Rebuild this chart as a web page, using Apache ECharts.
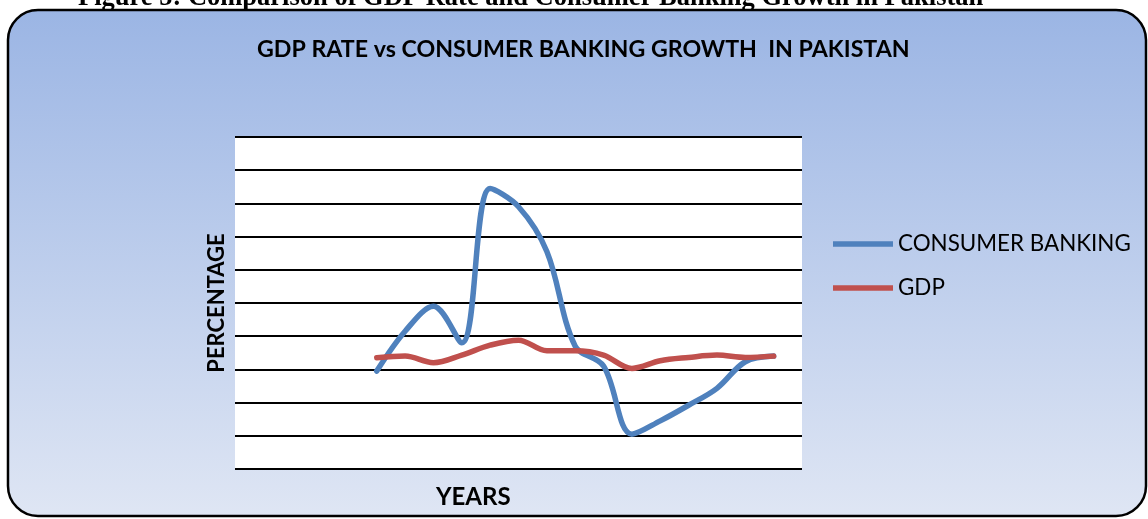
<!DOCTYPE html>
<html>
<head>
<meta charset="utf-8">
<script src="https://cdn.jsdelivr.net/npm/echarts@6/dist/echarts.min.js"></script>
<style>
html,body{margin:0;padding:0;background:#fff;}
#chart{width:1148px;height:519px;}
</style>
</head>
<body>
<div id="chart"></div>
<script>
// Data (percent)
const years = ['Y1','Y2','Y3','Y4','Y5','Y6','Y7','Y8','Y9','Y10','Y11','Y12','Y13','Y14','Y15'];
const consumerBanking = [-0.5, 11.5, 19, 8, 54.5, 49, 35.5, 7, 1, -19.5, -15.5, -10.8, -5.7, 2.3, 4];
const gdp = [3.5, 4.0, 2.0, 4.3, 7.3, 8.8, 5.6, 5.6, 4.3, 0.3, 2.6, 3.6, 4.3, 3.6, 4.0];
const seriesNames = ['CONSUMER BANKING', 'GDP'];
const yMin = -30, yMax = 70, yStep = 10;

const chart = echarts.init(document.getElementById('chart'));
const toPairs = arr => arr.map((v, i) => [i, v]);

chart.setOption({
  animation: false,
  graphic: [
    {
      type: 'rect', z: -10, silent: true,
      shape: { x: 8, y: 10, width: 1138, height: 506, r: 30 },
      style: {
        fill: new echarts.graphic.LinearGradient(0, 0, 0, 1, [
          { offset: 0, color: '#9bb5e4' },
          { offset: 1, color: '#dfe6f4' }
        ]),
        stroke: '#000', lineWidth: 2.5
      }
    },
    {
      type: 'text', left: 78, top: -15, silent: true,
      style: {
        text: 'Figure 5: Comparison of GDP Rate and Consumer Banking Growth in Pakistan',
        font: 'bold 26.5px "Liberation Serif", "Times New Roman", serif',
        fill: '#000'
      }
    },
    {
      type: 'text', left: 436, top: 485, silent: true,
      style: {
        text: 'YEARS',
        font: 'bold 24px Lato, "Open Sans", sans-serif',
        fill: '#000'
      }
    }
  ],
  title: {
    text: 'GDP RATE vs CONSUMER BANKING GROWTH  IN PAKISTAN',
    left: 252, top: 33,
    textStyle: { fontFamily: 'Lato, "Open Sans", sans-serif', fontWeight: 'bold', fontSize: 23.2, color: '#000' }
  },
  legend: {
    orient: 'vertical',
    left: 828, top: 228,
    itemWidth: 60, itemHeight: 14, itemGap: 22,
    data: seriesNames.map(n => ({ name: n, icon: 'path://M0,0 L55,0 L55,5 L0,5 Z' })),
    textStyle: { fontFamily: 'Lato, "Open Sans", sans-serif', fontSize: 22.4, color: '#000' }
  },
  grid: {
    left: 235, right: 346, top: 137, bottom: 50,
    show: true, backgroundColor: '#fff', borderWidth: 0
  },
  xAxis: {
    type: 'value', min: -5, max: 15,
    axisLine: { show: false }, axisTick: { show: false },
    axisLabel: { show: false }, splitLine: { show: false }
  },
  yAxis: {
    type: 'value', min: yMin, max: yMax, interval: yStep,
    name: 'PERCENTAGE', nameLocation: 'middle', nameGap: 7, nameRotate: 90,
    nameTextStyle: { fontFamily: 'Lato, "Open Sans", sans-serif', fontWeight: 'bold', fontSize: 22, color: '#000' },
    axisLine: { show: false }, axisTick: { show: false }, axisLabel: { show: false },
    splitLine: { show: true, lineStyle: { color: '#000', width: 1.8 } }
  },
  series: [
    {
      name: seriesNames[0], type: 'line', data: toPairs(consumerBanking),
      smooth: 0.35, symbol: 'none',
      lineStyle: { color: '#4f81bd', width: 5.5, cap: 'round' }, itemStyle: { color: '#4f81bd' }
    },
    {
      name: seriesNames[1], type: 'line', data: toPairs(gdp),
      smooth: 0.35, symbol: 'none',
      lineStyle: { color: '#c0504d', width: 5.5, cap: 'round' }, itemStyle: { color: '#c0504d' }
    }
  ]
});
</script>
</body>
</html>
